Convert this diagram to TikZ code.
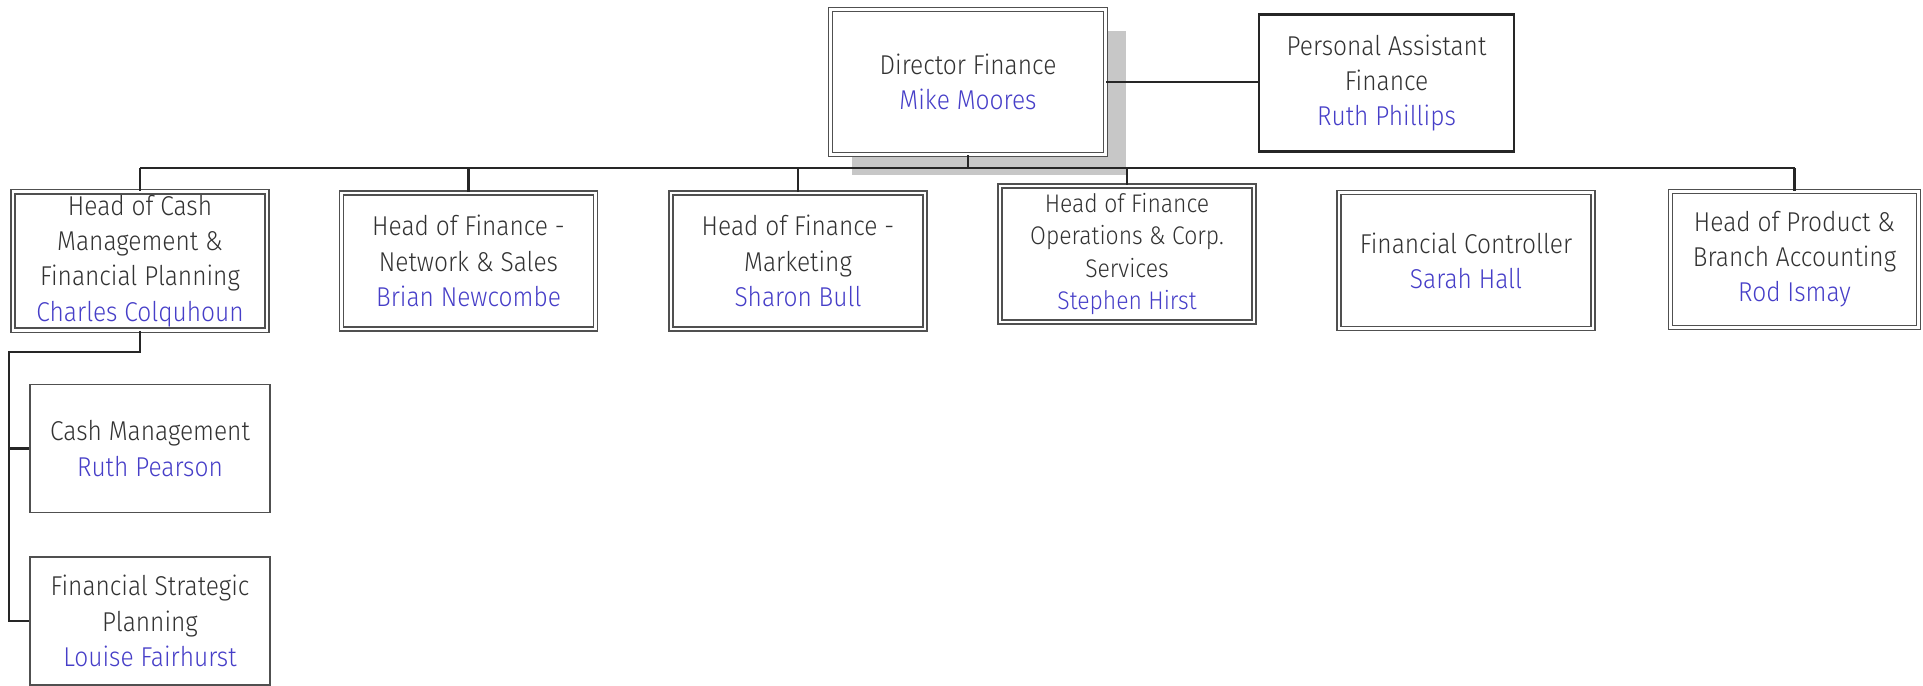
\documentclass[tikz,border=0pt]{standalone}
\usepackage{fontspec}
\setmainfont[FakeStretch=0.9]{Fira Sans Light}
\usetikzlibrary{shadows}
\definecolor{txtgray}{RGB}{50,50,50}
\definecolor{namecol}{RGB}{70,62,200}
\definecolor{boxline}{RGB}{80,80,80}
\newcommand{\who}[1]{\\\textcolor{namecol}{#1}}
\tikzset{
  post/.style={draw=boxline, double=white, line width=0.8pt, double distance=1.6pt,
    fill=white, align=center, text=txtgray, inner sep=2pt,
    font=\fontsize{15.5}{20}\selectfont, minimum width=5.08cm, minimum height=2.72cm},
  subpost/.style={draw=boxline, line width=0.9pt, fill=white, align=center, text=txtgray,
    font=\fontsize{15.5}{20}\selectfont, minimum width=4.8cm, minimum height=2.56cm},
  link/.style={draw=black!85, line width=1.4pt}
}
\begin{document}
\begin{tikzpicture}[x=0.02cm,y=-0.02cm]
  \useasboundingbox (0,0) rectangle (1923,686);
  \newcommand{\busy}{168}
  \newcommand{\rowy}{261}
  % director and assistant
  \node[post, minimum width=5.5cm, minimum height=2.9cm,
        drop shadow={shadow xshift=0.42cm, shadow yshift=-0.42cm, fill=black!22, opacity=1}]
        (dir) at (968,82) {Director Finance\who{Mike Moores}};
  \node[draw=black!85, line width=1.3pt, fill=white, align=center, text=txtgray,
        font=\fontsize{15.5}{20}\selectfont, minimum width=5.1cm, minimum height=2.74cm]
        (pa) at (1386.5,83) {Personal Assistant\\Finance\who{Ruth Phillips}};
  % heads
  \node[post] (cash) at (140,\rowy) {Head of Cash\\Management \&\\Financial Planning\who{Charles Colquhoun}};
  \node[post] (net) at (468.5,\rowy) {Head of Finance -\\Network \& Sales\who{Brian Newcombe}};
  \node[post] (mkt) at (798,\rowy) {Head of Finance -\\Marketing\who{Sharon Bull}};
  \node[post, font=\fontsize{14.5}{18.5}\selectfont] (ops) at (1127,254) {Head of Finance\\Operations \& Corp.\\Services\who{Stephen Hirst}};
  \node[post] (fc) at (1466,260.5) {Financial Controller\who{Sarah Hall}};
  \node[post, minimum width=4.96cm] (prod) at (1794.5,259.5) {Head of Product \&\\Branch Accounting\who{Rod Ismay}};
  % cash management team
  \node[subpost] (cm) at (150,448.5) {Cash Management\who{Ruth Pearson}};
  \node[subpost] (fsp) at (150,621) {Financial Strategic\\Planning\who{Louise Fairhurst}};
  % connectors
  \coordinate (bus) at (0,\busy);
  \coordinate (spine) at (9,352);
  \draw[link] (dir.east) -- (dir.east -| pa.west);
  \draw[link] (dir.south) -- (dir.south |- bus);
  \draw[link] (cash.north |- bus) -- (prod.north |- bus);
  \foreach \n in {cash,net,mkt,ops,prod}
    \draw[link] (\n.north |- bus) -- (\n.north);
  \draw[link] (cash.south) |- (spine) -- (spine |- fsp.west) -- (fsp.west);
  \draw[link] (spine |- cm.west) -- (cm.west);
\end{tikzpicture}
\end{document}
